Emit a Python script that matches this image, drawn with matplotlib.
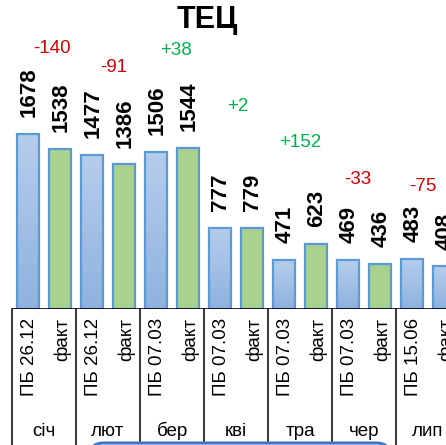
import numpy as np
import matplotlib
matplotlib.use("Agg")
import matplotlib.pyplot as plt
from matplotlib.colors import LinearSegmentedColormap
from matplotlib.patches import FancyBboxPatch

plt.rcParams["font.family"] = ["Liberation Sans", "DejaVu Sans"]

# data
MONTHS = ["січ", "лют", "бер", "кві", "тра", "чер", "лип"]
PLAN_LABELS = ["ПБ 26.12", "ПБ 26.12", "ПБ 07.03", "ПБ 07.03", "ПБ 07.03", "ПБ 07.03", "ПБ 15.06"]
FACT_LABEL = "факт"
PLAN = [1678, 1477, 1506, 777, 471, 469, 483]
FACT = [1538, 1386, 1544, 779, 623, 436, 408]
FACT_IS_ESTIMATE = [False, False, False, False, False, False, True]

# layout of the difference labels (data units / pixel nudges)
DELTA_Y = [2502, 2311, 2474, 1937, 1592, 1237, 1179]
DELTA_DX = [8, 6, 4, 2, 0, -6, -5]

W, H = 446, 445
PX_PER_UNIT = 0.1043
BASE_Y = 309  # px from top

fig = plt.figure(figsize=(W / 100, H / 100), dpi=100)
ax = fig.add_axes([12 / W, (H - BASE_Y) / H, 448 / W, BASE_Y / H])
ymax = BASE_Y / PX_PER_UNIT

blue_cmap = LinearSegmentedColormap.from_list("bl", ["#8FB2DF", "#B5CDEC"])
grad = np.linspace(0, 1, 100).reshape(-1, 1)

n = len(MONTHS)
values, colors, xs = [], [], []
for i in range(n):
    values += [PLAN[i], FACT[i]]
    colors += ["blue", "blue" if FACT_IS_ESTIMATE[i] else "green"]
    xs += [2 * i, 2 * i + 1]

bars = ax.bar(xs, values, width=0.69, color="#A9D18E", edgecolor="#5B9BD5",
              linewidth=1.6, zorder=2)
for b, c in zip(bars, colors):
    if c == "blue":
        b.set_facecolor("none")
        x0, y0 = b.get_x(), b.get_y()
        im = ax.imshow(grad, cmap=blue_cmap, origin="lower", aspect="auto",
                       extent=[x0, x0 + b.get_width(), y0, y0 + b.get_height()],
                       zorder=1.5)
        im.set_clip_path(b)

# value labels
for x, v in zip(xs, values):
    ax.annotate(str(v), (x, v), xytext=(0.5, 12), textcoords="offset points",
                rotation=90, ha="center", va="bottom", fontsize=16,
                fontweight="bold", color="black")

# difference labels
for i in range(n):
    d = FACT[i] - PLAN[i]
    txt = f"{d:+d}"
    col = "#00B050" if d > 0 else "#D00000"
    ax.annotate(txt, (2 * i + 0.5, DELTA_Y[i]), xytext=(DELTA_DX[i] * 0.72, 0),
                textcoords="offset points", ha="center", va="center",
                fontsize=13.5, color=col)

# category labels
for i in range(n):
    ax.annotate(PLAN_LABELS[i], (2 * i, 0), xytext=(1, -6.5), textcoords="offset points",
                rotation=90, ha="center", va="top", fontsize=13.5)
    ax.annotate(FACT_LABEL, (2 * i + 1, 0), xytext=(2, -6.5), textcoords="offset points",
                rotation=90, ha="center", va="top", fontsize=13.5)
    ax.annotate(MONTHS[i], (2 * i + 0.5, 0), xytext=(0, -88), textcoords="offset points",
                ha="center", va="center", fontsize=13.5)

# group separators
trans = ax.get_xaxis_transform()
for i in range(n + 1):
    ax.plot([2 * i - 0.5, 2 * i - 0.5], [0, -0.5], color="black", lw=1.1,
            transform=trans, clip_on=False)

ax.axhline(0, color="black", lw=1.2, zorder=3)
ax.set_xlim(-0.5, 2 * n - 0.5)
ax.set_ylim(0, ymax)
ax.axis("off")

fig.text(207 / W, 1 - 20 / H, "ТЕЦ", ha="center", va="center",
         fontsize=22, fontweight="bold")

box = FancyBboxPatch((90 / W, -0.1), 300 / W, 0.1 + 2 / H,
                     boxstyle="round,pad=0,rounding_size=0.03",
                     transform=fig.transFigure, facecolor="white",
                     edgecolor="#4472C4", linewidth=2.2)
fig.patches.append(box)

fig.savefig("out.png", dpi=100)
